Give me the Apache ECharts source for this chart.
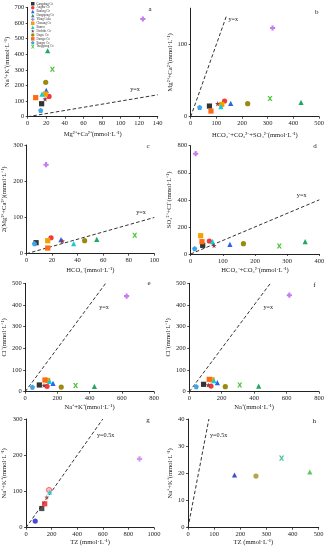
<!DOCTYPE html>
<html><head><meta charset="utf-8">
<script src="https://cdn.jsdelivr.net/npm/echarts@6/dist/echarts.min.js"></script>
<style>html,body{margin:0;padding:0;background:#fff}#c{width:329px;height:550px}</style>
</head><body><div id="c"></div><script>
// ---- data ----
const lakes = ['Gangdang Co','Angdar Co','Bankog Co','Dangqiong Co','Yibug Caka','Chasang Co','Bamco','Dochide Co','Dagze Co','Darngo Co','Bangor Co','Tangqiong Co'];
// a: Mg+Ca vs Na+K
const aX = [15, 23, 20, 21.5, 124, 19, 15.4, 18.7, 19.4, 8.6, 14, 26.6];
const aY = [83, 130, 169, 422, 625, 145, 145, 113, 220, 122, 40.5, 303];
// b: HCO3+CO3+SO4 vs Mg+Ca
const bX = [73, 132, 156, 430, 319, 121, 118, 105, 222, 79, 35, 309];
const bY = [14.7, 21.7, 18.4, 19.8, 122.6, 17, 13.8, 18, 18, 7.8, 12.9, 25];
// c: HCO3 vs 2(Mg+Ca)
const cX = [7.5, 19.2, 27, 55, 15.3, 16.6, 36.9, 28, 45.5, 16.6, 6.2, 84.7];
const cY = [30.4, 44, 38.6, 39.6, 245.7, 35.9, 27.6, 35, 35.9, 15.6, 27.6, 50.6];
// d: HCO3+CO3 vs SO4+Cl
const dX = [37.3, 58, 122, 356, 15.5, 31, 68, 72.5, 164, 35, 12.4, 275.6];
const dY = [64, 96, 71, 91, 741, 135, 91, 61.6, 76, 91, 39, 59];
// e: Na+K vs Cl
const eX = [88, 136, 173, 430, 630, 140, 152, 117, 224, 123, 45, 313];
const eY = [31, 25, 38.5, 25, 441, 52, 48, 29, 21.5, 54, 21.5, 29];
// f: Na vs Cl
const fX = [88, 134, 173, 428, 617, 140, 152, 117, 222, 123, 43, 311];
const fY = [34, 26, 41.5, 26, 445, 55, 51, 31, 23, 57, 23, 31];
// g: TZ vs Na+K
const gX = [72, 123, 146, 162, 180, 185, 887];
const gY = [18.4, 53, 66, 84, 104, 98, 190];
// h: TZ vs Na+K
const hX = [178, 260, 358, 466];
const hY = [19.4, 19, 25.6, 20.5];
// reference lines y = k*x
const refK = [1, 1, 1, 1, 1, 1, 0.5, 0.5];
const refXEnd = [140, 140, 100, 400, 500, 500, 600, 80];
const refText = ['y=x','y=x','y=x','y=x','y=x','y=x','y=0.5x','y=0.5x'];
const panelTags = ['a','b','c','d','e','f','g','h'];
// axes
const xMin = [0,0,0,0,0,0,0,0];
const xMax = [140,500,100,400,800,800,1000,500];
const xInt = [20,100,20,100,200,200,200,100];
const yMax = [700,150,300,800,500,500,300,40];
const yInt = [100,100,100,200,100,100,100,10];
const xNames = ['Mg²⁺+Ca²⁺(mmol·L⁻¹)','HCO₃⁻+CO₃²⁻+SO₄²⁻(mmol·L⁻¹)','HCO₃⁻(mmol·L⁻¹)','HCO₃⁻+CO₃²⁻(mmol·L⁻¹)','Na⁺+K⁺(mmol·L⁻¹)','Na⁺(mmol·L⁻¹)','TZ (mmol·L⁻¹)','TZ (mmol·L⁻¹)'];
const yNames = ['Na⁺+K⁺(mmol·L⁻¹)','Mg²⁺+Ca²⁺(mmol·L⁻¹)','2(Mg²⁺+Ca²⁺)(mmol·L⁻¹)','SO₄²⁻+Cl⁻(mmol·L⁻¹)','Cl⁻(mmol·L⁻¹)','Cl⁻(mmol·L⁻¹)','Na⁺+K⁺(mmol·L⁻¹)','Na⁺+K⁺(mmol·L⁻¹)'];

// ---- styles ----
const FONT = '"Liberation Serif","Times New Roman",serif';
const PLUS = 'path://M3,0H7V3H10V7H7V10H3V7H0V3H3Z';
const STAR = 'path://M5,0L6.2,3.5L10,3.8L7,6.2L8,10L5,7.8L2,10L3,6.2L0,3.8L3.8,3.5Z';
const XMARK = 'path://M0,0H3L5,3L7,0H10L6.5,5L10,10H7L5,7L3,10H0L3.5,5Z';
const PENTA = 'path://M5,0L10,3.8L8.1,10H1.9L0,3.8Z';
const lakeSym = ['rect','circle','triangle','triangle',PLUS,'rect','triangle',STAR,'circle','rect',PENTA,XMARK];
const lakeCol = ['#333333','#f03a3a','#2a62f0','#1fa864','#c47cf2','#f0a300','#12cbd8','#8a3b52','#9a8a12','#ff6a12','#3ea3ea','#4cc43c'];
const gSym = ['circle','rect','rect',STAR,'circle','triangle',PLUS];
const gCol = ['#1a1acc','#222222','#f01818','#a04448','#f05050','#18d0e0','#c47cf2'];
const hSym = ['triangle','circle',XMARK,'triangle'];
const hCol = ['#1424b0','#a09020','#20b48c','#38b838'];

const grids = [
  {left:27.7, top:7.3, width:130, height:109.4},
  {left:190.7, top:8.2, width:128.3, height:108.5},
  {left:26, top:145, width:128.3, height:108.7},
  {left:190.7, top:145.7, width:128.6, height:108.3},
  {left:24.3, top:283.3, width:129.7, height:108.4},
  {left:189.3, top:283.3, width:129.7, height:108.4},
  {left:24.3, top:419, width:129.7, height:108.7},
  {left:188, top:419, width:130.7, height:108.7}
];
const xGap = [14, 15, 13.5, 12.5, 12.5, 12.5, 11, 11];
const yGap = [17, 17, 18.5, 17.5, 16.5, 17, 18, 14.5];
const tagPos = [[150,9],[316.7,11.7],[148,146],[315,146],[149,283],[314.3,285],[148,420],[314.3,421]];
const refLabPos = [[135,89.3],[233.3,19],[141,212.3],[301.7,195],[104,307.3],[268.3,307.3],[105.7,435],[218.7,435.7]];

const axisCommon = {
  axisLine:{show:true, lineStyle:{color:'#222', width:1}},
  axisTick:{show:true, inside:false, length:2, lineStyle:{color:'#222', width:0.8}},
  splitLine:{show:false},
  axisLabel:{color:'#222', fontFamily:FONT, fontSize:6.5, margin:3.5, formatter:(v)=>String(v)},
  nameTextStyle:{color:'#222', fontFamily:FONT, fontSize:6.6},
  nameLocation:'middle'
};
const xAxis = [], yAxis = [];
for (let i=0;i<8;i++){
  xAxis.push(Object.assign({}, axisCommon, {
    type:'value', gridIndex:i, min:xMin[i], max:xMax[i], interval:xInt[i],
    name:xNames[i], nameGap:xGap[i]
  }));
  const y = Object.assign({}, axisCommon, {
    type:'value', gridIndex:i, min:0, max:yMax[i], interval:yInt[i],
    name:yNames[i], nameGap:yGap[i]
  });
  if (i===1){
    y.axisLabel = Object.assign({}, axisCommon.axisLabel, {customValues:[0,100]});
    y.axisTick = Object.assign({}, axisCommon.axisTick, {customValues:[0,100]});
  }
  yAxis.push(y);
}
const series = [];
const lakeSets = [[aX,aY],[bX,bY],[cX,cY],[dX,dY],[eX,eY],[fX,fY]];
lakeSets.forEach((s,gi)=>{
  lakes.forEach((nm,k)=>{
    series.push({type:'scatter', name:nm, xAxisIndex:gi, yAxisIndex:gi,
      symbol:lakeSym[k], symbolSize:k===11?5:5.2, itemStyle:{color:lakeCol[k], opacity:1},
      data:[[s[0][k], s[1][k]]], z:3});
  });
});
gX.forEach((v,k)=>{
  series.push({type:'scatter', name:'g'+k, xAxisIndex:6, yAxisIndex:6, symbol:gSym[k], symbolSize:5.2,
    itemStyle: k===4 ? {color:'#ffb0a0', borderColor:gCol[k], borderWidth:1} : {color:gCol[k]},
    data:[[gX[k], gY[k]]], z:3});
});
hX.forEach((v,k)=>{
  series.push({type:'scatter', name:'h'+k, xAxisIndex:7, yAxisIndex:7, symbol:hSym[k], symbolSize:5.2,
    itemStyle:{color:hCol[k]}, data:[[hX[k], hY[k]]], z:3});
});
for (let i=0;i<8;i++){
  series.push({type:'line', name:'ref'+i, xAxisIndex:i, yAxisIndex:i, showSymbol:false, silent:true,
    lineStyle:{color:'#333', width:1, type:[3.5,2.2]}, data:[[0,0],[refXEnd[i], refK[i]*refXEnd[i]]], z:2});
}
const graphic = [];
for (let i=0;i<8;i++){
  graphic.push({type:'text', x:tagPos[i][0], y:tagPos[i][1], style:{text:panelTags[i], font:'7px '+FONT, fill:'#222', align:'center', verticalAlign:'middle'}});
  graphic.push({type:'text', x:refLabPos[i][0], y:refLabPos[i][1], style:{text:refText[i], font:'6.2px '+FONT, fill:'#222', align:'center', verticalAlign:'middle'}});
}
const chart = echarts.init(document.getElementById('c'), null, {renderer:'canvas'});
chart.setOption({
  animation:false,
  backgroundColor:'#fff',
  grid:grids,
  xAxis, yAxis, series, graphic,
  legend:{
    data:lakes, orient:'vertical', left:31, top:2, padding:0,
    itemWidth:3.5, itemHeight:3.5, itemGap:0.4,
    textStyle:{fontSize:3, fontFamily:FONT, color:'#333', padding:[0,0,0,-3]}
  }
});
</script></body></html>
